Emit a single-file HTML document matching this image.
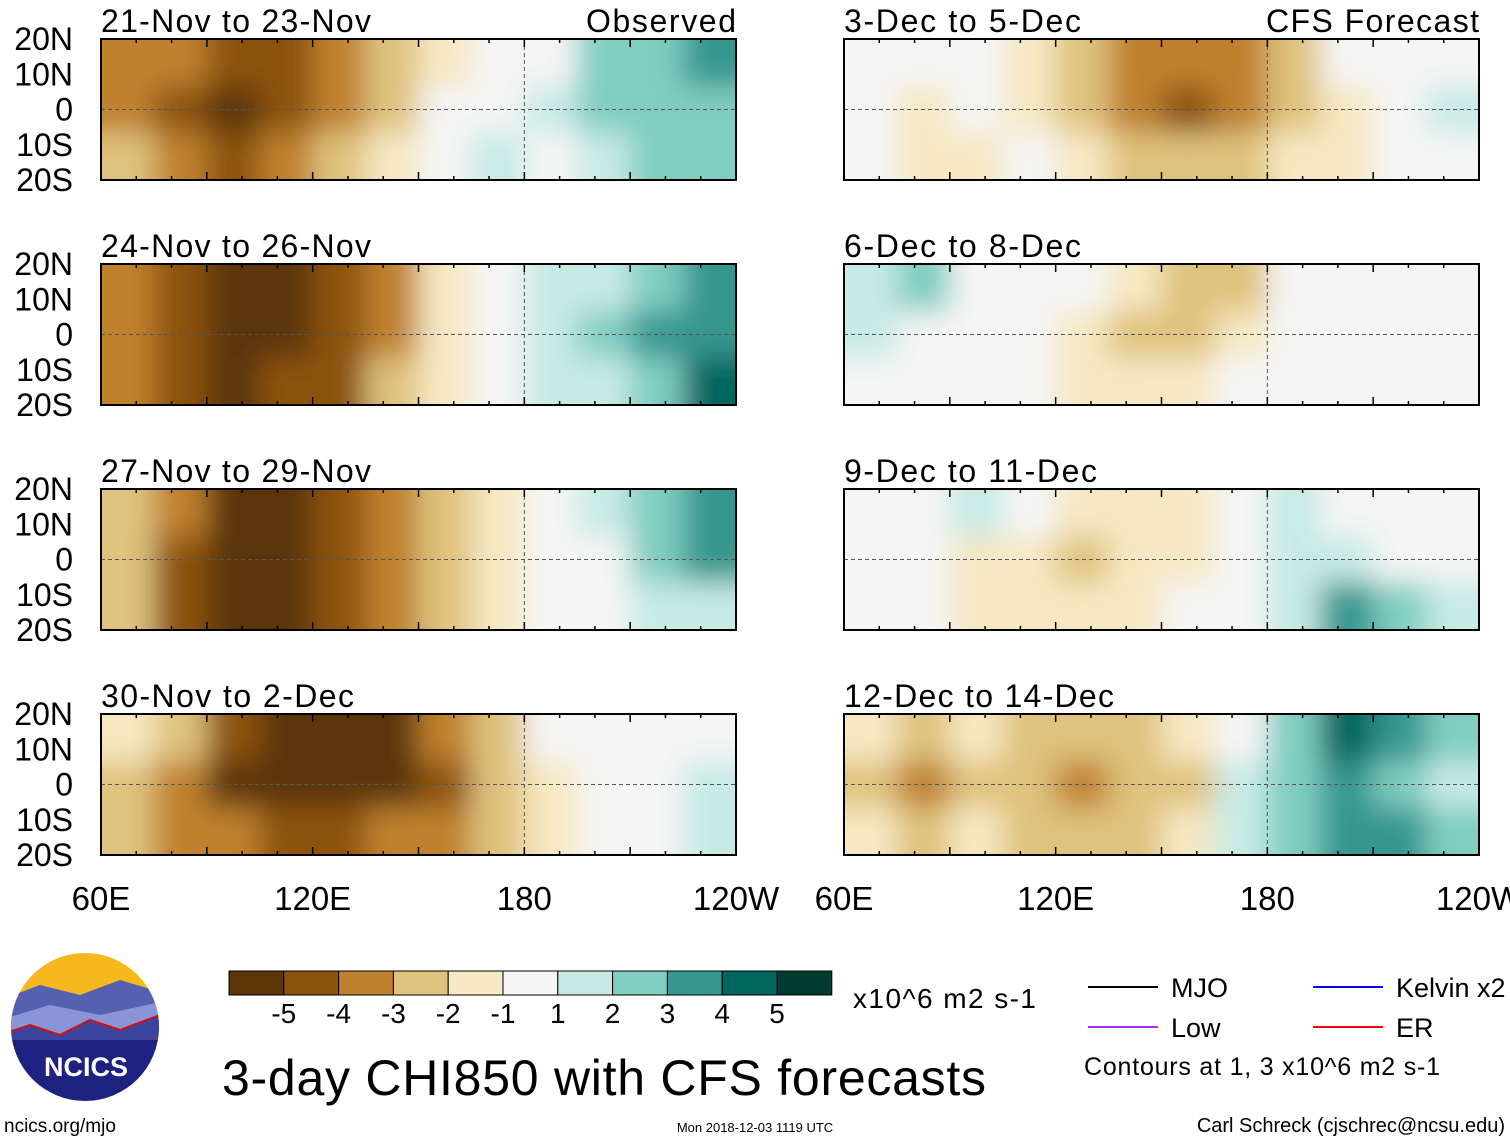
<!DOCTYPE html>
<html><head><meta charset="utf-8">
<style>
body{margin:0;background:#fff;}
svg text{font-family:"Liberation Sans",sans-serif;}
</style></head>
<body>
<svg id="chart" width="1510" height="1142" viewBox="0 0 1510 1142" xmlns="http://www.w3.org/2000/svg">
<defs>
<filter id="bl" x="-10%" y="-30%" width="120%" height="160%"><feGaussianBlur stdDeviation="14"/></filter>
</defs>
<g id="panels"></g>
<g id="legend"></g>
</svg>
<script>
const titles=["21-Nov to 23-Nov","24-Nov to 26-Nov","27-Nov to 29-Nov","30-Nov to 2-Dec","3-Dec to 5-Dec","6-Dec to 8-Dec","9-Dec to 11-Dec","12-Dec to 14-Dec"];
const latLabels=["20N","10N","0","10S","20S"];
const lonLabels=["60E","120E","180","120W"];
const levelLabels=["-5","-4","-3","-2","-1","1","2","3","4","5"];
const levelColors=['#5b3408','#8c520f','#bf812d','#dfc27d','#f6e8c3','#f5f5f5','#c7eae5','#80cdc1','#35978f','#01665e','#003c30'];
// anomaly values: per panel, rows N, Eq, S; 12 columns of 15° from 60E
const p0=[[-3,-3,-4,-4,-3,-2,-1,0,0,2,2,3],[-3,-4,-5,-4,-3,-2,0,0,1,2,2,2],[-2,-3,-4,-3,-2,-1,0,1,0,1,2,2]];
const p1=[[-3,-4,-5,-5,-4,-3,-1,0,1,1,2,3],[-3,-4,-5,-5,-4,-3,-1,0,1,2,3,3],[-3,-4,-5,-4,-4,-2,-1,0,1,1,2,4]];
const p2=[[-2,-3,-5,-5,-4,-3,-2,-1,0,1,2,3],[-2,-4,-5,-5,-4,-3,-2,-1,0,0,2,3],[-2,-4,-5,-5,-4,-3,-2,-1,0,0,1,1]];
const p3=[[-1,-2,-4,-5,-5,-5,-3,-2,0,0,0,0],[-2,-3,-5,-5,-5,-5,-4,-2,-1,0,0,1],[-2,-3,-3,-4,-4,-3,-3,-2,-1,0,0,1]];
const p4=[[0,0,0,-1,-2,-3,-3,-3,-2,0,0,0],[0,-1,0,-1,-2,-3,-4,-3,-2,-1,0,1],[0,-1,-1,0,-1,-2,-2,-2,-1,-1,0,0]];
const p5=[[1,2,0,0,0,-1,-2,-2,0,0,0,0],[1,0,0,0,-1,-2,-2,-1,0,0,0,0],[0,0,0,0,-1,-1,-1,0,0,0,0,0]];
const p6=[[0,0,1,0,-1,-1,-1,0,1,0,0,0],[0,0,-1,-1,-2,-1,-1,0,1,1,0,0],[0,0,-1,-1,-1,-1,0,0,1,3,2,1]];
const p7=[[-1,-2,-1,-2,-2,-2,-1,0,2,4,3,2],[-2,-3,-2,-2,-3,-2,-2,1,2,3,2,1],[-1,-2,-1,-2,-2,-2,-1,1,2,3,3,2]];
const panelData=[p0,p1,p2,p3,p4,p5,p6,p7];

const NS="http://www.w3.org/2000/svg";
function mk(tag,attrs,parent){const e=document.createElementNS(NS,tag);for(const k in attrs)e.setAttribute(k,attrs[k]);if(parent)parent.appendChild(e);return e;}
function colorOf(v){const i=v<0?Math.max(0,v+5):(v===0?5:Math.min(10,v+5));return levelColors[i];}
const PW=635,PH=141;
const colX=[101,844],rowY=[39,264,489,714];
const G=document.getElementById('panels');
panelData.forEach((d,p)=>{
  const x0=colX[Math.floor(p/4)],y0=rowY[p%4];
  const lon=l=>x0+(l-60)/180*PW;
  const lat=a=>y0+(20-a)/40*PH;
  const g=mk('g',{},G);
  
  
  mk('clipPath',{id:'c'+p},g).appendChild(mk('rect',{x:x0,y:y0,width:PW,height:PH}));
  mk('rect',{x:x0,y:y0,width:PW,height:PH,fill:'#f5f5f5'},g);
  const fg=mk('g',{'clip-path':'url(#c'+p+')'},g);
  const inner=mk('g',{filter:'url(#bl)'},fg);
  const latB=[[20,6.5],[6.5,-6.5],[-6.5,-20]];
  d.forEach((row,r)=>{row.forEach((v,c)=>{
    let ya=latB[r][0],yb=latB[r][1];
    if(r===0)ya=40; if(r===2)yb=-40;
    let xa=lon(60+15*c),xb=lon(75+15*c);
    if(c===0)xa-=60; if(c===11)xb+=60;
    const cell=mk('rect',{x:xa,y:lat(ya),width:xb-xa+1,height:lat(yb)-lat(ya)+1,fill:colorOf(v)},inner);
    
    
  });});
  mk('line',{x1:x0,x2:x0+PW,y1:lat(0),y2:lat(0),stroke:'#555','stroke-dasharray':'4,3','stroke-width':1},g);
  mk('line',{x1:lon(180),x2:lon(180),y1:y0,y2:y0+PH,stroke:'#555','stroke-dasharray':'4,3','stroke-width':1},g);
  mk('rect',{x:x0,y:y0,width:PW,height:PH,fill:'none',stroke:'#000','stroke-width':2},g);
  for(let l=60;l<=240;l+=10){mk('line',{x1:lon(l),x2:lon(l),y1:y0,y2:y0+(l%30===0?8:4),stroke:'#000','stroke-width':1.5},g);mk('line',{x1:lon(l),x2:lon(l),y1:y0+PH,y2:y0+PH-(l%30===0?8:4),stroke:'#000','stroke-width':1.5},g);}
  const t=mk('text',{x:x0,y:y0-7,'font-size':32,fill:'#000'},g);t.textContent=titles[p];
  t.setAttribute('textLength',Math.round(t.textContent.length*16.9));
  
  if(p===0||p===4){const s=mk('text',{x:x0+PW,y:y0-7,'font-size':32,'text-anchor':'end'},g);s.textContent=p===0?'Observed':'CFS Forecast';
    s.setAttribute('textLength',p===0?150:213);
    }
  if(p<4){latLabels.forEach((lb,i)=>{const tt=mk('text',{x:73,y:y0+i*PH/4+11,'font-size':32,'text-anchor':'end'},g);tt.textContent=lb;
    });}
  if(p%4===3){lonLabels.forEach((lb,i)=>{const tt=mk('text',{x:x0+i*PW/3,y:910,'font-size':33,'text-anchor':'middle'},g);tt.textContent=lb;
    });}
});
const L=document.getElementById('legend');
const bw=54.8;
levelColors.forEach((c,i)=>{const r=mk('rect',{x:229+i*bw,y:971,width:bw,height:24,fill:c,stroke:'#000','stroke-width':1},L);
  });
levelLabels.forEach((lb,i)=>{const t=mk('text',{x:229+(i+1)*bw,y:1023,'font-size':28,'text-anchor':'middle'},L);t.textContent=lb;
  });
function txt(x,y,s,str,name,anchor){const t=mk('text',{x:x,y:y,'font-size':s,'text-anchor':anchor||'start'},L);t.textContent=str;return t;}
txt(853,1008,28,'x10^6 m2 s-1','colorbar-units').setAttribute('textLength',183);
txt(222,1095,50,'3-day CHI850 with CFS forecasts','main-title').setAttribute('textLength',764);
const leg=[[1088,987,'#000','MJO'],[1088,1027,'#9b30ff','Low'],[1313,987,'#0000ff','Kelvin x2'],[1313,1027,'#ff0000','ER']];
leg.forEach(l=>{const ln=mk('line',{x1:l[0],x2:l[0]+70,y1:l[1],y2:l[1],stroke:l[2],'stroke-width':2},L);
  
  txt(l[0]+83,l[1]+10,27,l[3],'legend-entry');});
txt(1084,1075,25,'Contours at 1, 3 x10^6 m2 s-1','contour-note').setAttribute('textLength',356);
txt(4,1132,19,'ncics.org/mjo','source-url');
txt(755,1132,13,'Mon 2018-12-03 1119 UTC','timestamp','middle');
txt(1505,1132,20,'Carl Schreck (cjschrec@ncsu.edu)','author-credit','end');
const lg=mk('g',{},L);
mk('clipPath',{id:'lc'},lg).appendChild(mk('circle',{cx:85,cy:1027,r:74}));
const lc=mk('g',{'clip-path':'url(#lc)'},lg);
mk('rect',{x:0,y:950,width:170,height:80,fill:'#f5b81e'},lc);
mk('path',{d:'M0 1000 L40 985 L80 995 L120 980 L170 995 L170 1030 L0 1030Z',fill:'#5560b0'},lc);
mk('path',{d:'M0 1020 L50 1005 L100 1015 L170 1000 L170 1040 L0 1040Z',fill:'#8a95d8'},lc);
mk('path',{d:'M0 1035 L30 1025 L60 1035 L90 1020 L120 1030 L160 1015 L170 1040 L0 1045Z',fill:'#3b45a0',stroke:'#d01010','stroke-width':2},lc);
mk('rect',{x:0,y:1040,width:170,height:70,fill:'#1d2180'},lc);
const lt=mk('text',{x:86,y:1076,'font-size':27,'font-weight':'bold',fill:'#fff','text-anchor':'middle'},lg);lt.textContent='NCICS';
</script>
</body></html>
